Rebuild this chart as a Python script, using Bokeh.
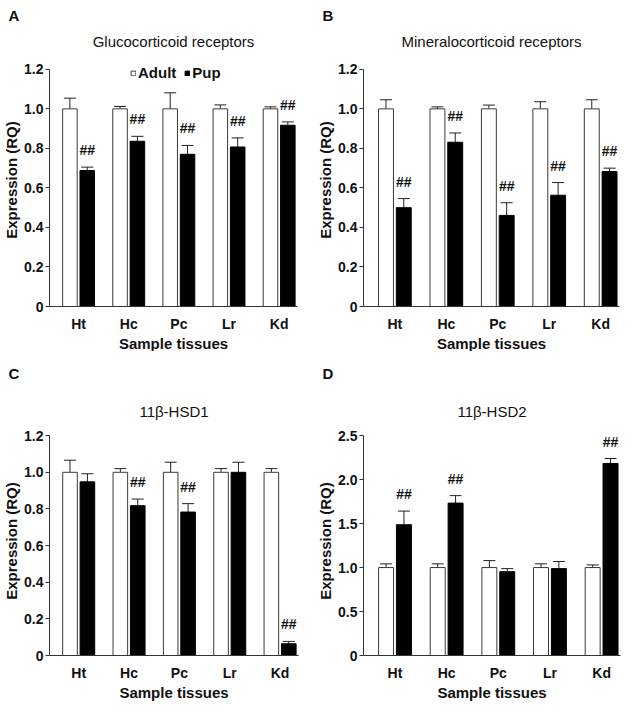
from bokeh.plotting import figure
from bokeh.models import (ColumnDataSource, Whisker, TeeHead, Legend, LegendItem,
                          Title, FixedTicker)
from bokeh.layouts import column, row
from bokeh.embed import file_html
from bokeh.resources import INLINE
from bokeh.core.properties import value

FONT = "Liberation Sans"
TXT = "#111111"
AX = "#333333"

tissues = ["Ht", "Hc", "Pc", "Lr", "Kd"]
positions = [1, 2, 3, 4, 5]

# A: Glucocorticoid receptors
gr_adult = [1.0, 1.0, 1.0, 1.0, 1.0]
gr_adult_sem = [0.054, 0.012, 0.081, 0.020, 0.010]
gr_pup = [0.688, 0.836, 0.770, 0.807, 0.917]
gr_pup_sem = [0.017, 0.025, 0.045, 0.046, 0.017]
gr_sig = [True, True, True, True, True]

# B: Mineralocorticoid receptors
mr_adult = [1.0, 1.0, 1.0, 1.0, 1.0]
mr_adult_sem = [0.046, 0.010, 0.019, 0.036, 0.046]
mr_pup = [0.500, 0.831, 0.461, 0.563, 0.683]
mr_pup_sem = [0.046, 0.047, 0.064, 0.064, 0.017]
mr_sig = [True, True, True, True, True]

# C: 11b-HSD1
h1_adult = [1.0, 1.0, 1.0, 1.0, 1.0]
h1_adult_sem = [0.066, 0.020, 0.055, 0.020, 0.020]
h1_pup = [0.948, 0.818, 0.783, 1.000, 0.064]
h1_pup_sem = [0.044, 0.036, 0.046, 0.055, 0.013]
h1_sig = [False, True, True, False, True]

# D: 11b-HSD2
h2_adult = [1.0, 1.0, 1.0, 1.0, 1.0]
h2_adult_sem = [0.042, 0.042, 0.079, 0.042, 0.030]
h2_pup = [1.487, 1.733, 0.953, 0.988, 2.184]
h2_pup_sem = [0.155, 0.085, 0.035, 0.081, 0.056]
h2_sig = [True, True, False, False, True]

ticks_12 = [0, 0.2, 0.4, 0.6, 0.8, 1.0, 1.2]
labels_12 = ["0", "0.2", "0.4", "0.6", "0.8", "1.0", "1.2"]
ticks_25 = [0, 0.5, 1.0, 1.5, 2.0, 2.5]
labels_25 = ["0", "0.5", "1.0", "1.5", "2.0", "2.5"]

OFF = 0.173
BW = 0.29


def make_panel(letter, title, adult, adult_sem, pup, pup_sem, sig, yticks, ylabels, ymax, yext,
               width, height, bl, br, bt, bb, xstart, legend=False, letter_off=-41,
               title_standoff=7, letter_standoff=8):
    p = figure(width=width, height=height, x_range=(xstart, 5.366), y_range=(0, ymax + yext),
               output_backend="svg", toolbar_location=None, tools="",
               min_border_left=bl, min_border_right=br, min_border_top=bt, min_border_bottom=bb)
    p.outline_line_color = None
    p.grid.visible = False
    p.background_fill_color = "white"

    xa = [x - OFF for x in positions]
    xp = [x + OFF for x in positions]
    sa = ColumnDataSource(dict(x=xa, top=adult, hi=[a + s for a, s in zip(adult, adult_sem)]))
    sp = ColumnDataSource(dict(x=xp, top=pup, hi=[a + s for a, s in zip(pup, pup_sem)]))

    ra = p.vbar(x="x", top="top", bottom=0, width=BW, source=sa,
                fill_color="white", line_color="#3a3a3a", line_width=1)
    rp = p.vbar(x="x", top="top", bottom=0, width=BW, source=sp,
                fill_color="black", line_color="black", line_width=1)
    for s in (sa, sp):
        w = Whisker(source=s, base="x", upper="hi", lower="top", line_color="#222222",
                    line_width=1, upper_head=TeeHead(size=12, line_color="#222222", line_width=1),
                    lower_head=None)
        p.add_layout(w)

    sx = [x for x, f in zip(xp, sig) if f]
    sy = [a + s for a, s, f in zip(pup, pup_sem, sig) if f]
    ss = ColumnDataSource(dict(x=sx, y=sy, t=["##"] * len(sx)))
    p.text(x="x", y="y", text="t", source=ss, text_align="center", text_baseline="bottom",
           y_offset=-9, text_font=value(FONT), text_font_size="14px",
           text_font_style="bold", text_color=TXT)

    # axes
    xaxis = p.xaxis[0]
    xaxis.ticker = FixedTicker(ticks=positions)
    xaxis.major_label_overrides = {pos: t for pos, t in zip(positions, tissues)}
    xaxis.major_tick_out = 0
    xaxis.major_tick_in = 0
    xaxis.minor_tick_line_color = None
    xaxis.major_label_standoff = 9
    yaxis = p.yaxis[0]
    yaxis.ticker = FixedTicker(ticks=yticks)
    yaxis.major_label_overrides = {t: l for t, l in zip(yticks, ylabels)}
    yaxis.bounds = (0, ymax)
    yaxis.minor_tick_line_color = None
    yaxis.major_tick_in = 0
    yaxis.major_tick_out = 4
    yaxis.major_label_standoff = 2
    yaxis.axis_label = "Expression (RQ)"
    yaxis.axis_label_standoff = 1
    for ax in (xaxis, yaxis):
        ax.axis_line_color = AX
        ax.major_tick_line_color = AX if ax is yaxis else None
        ax.major_label_text_font = FONT
        ax.major_label_text_font_size = "14px"
        ax.major_label_text_font_style = "bold"
        ax.major_label_text_color = TXT
        ax.axis_label_text_font = FONT
        ax.axis_label_text_font_size = "15px"
        ax.axis_label_text_font_style = "bold"
        ax.axis_label_text_color = TXT

    p.add_layout(Title(text="Sample tissues", align="center", text_font=FONT,
                       text_font_size="15px", text_font_style="bold", text_color=TXT,
                       standoff=-3), "below")
    p.add_layout(Title(text=title, align="center", text_font=FONT, text_font_size="15px",
                       text_font_style="normal", text_color=TXT, standoff=title_standoff), "above")
    p.add_layout(Title(text=letter, align="left", offset=letter_off, text_font=FONT,
                       text_font_size="15px", text_font_style="bold", text_color=TXT,
                       standoff=letter_standoff), "above")

    if legend:
        lg = Legend(items=[LegendItem(label="Adult", renderers=[ra]),
                           LegendItem(label="Pup", renderers=[rp])],
                    orientation="horizontal", location=(81, 225), glyph_width=6,
                    glyph_height=6, label_standoff=2, spacing=8, padding=0, margin=0,
                    border_line_color=None, background_fill_alpha=0,
                    label_text_font=FONT, label_text_font_size="15px",
                    label_text_font_style="bold", label_text_color=TXT)
        p.add_layout(lg, "center")
    return p


pA = make_panel("A", "Glucocorticoid receptors", gr_adult, gr_adult_sem, gr_pup, gr_pup_sem,
                gr_sig, ticks_12, labels_12, 1.2, 0.08, 314, 351, 36, 17, 44, 45, 0.42,
                legend=True)
pB = make_panel("B", "Mineralocorticoid receptors", mr_adult, mr_adult_sem, mr_pup, mr_pup_sem,
                mr_sig, ticks_12, labels_12, 1.2, 0.08, 314, 351, 42, 9, 44, 45, 0.39)
pC = make_panel("C", "11\u03b2-HSD1", h1_adult, h1_adult_sem, h1_pup, h1_pup_sem,
                h1_sig, ticks_12, labels_12, 1.2, 0.05, 314, 352, 37, 16, 66, 48, 0.42,
                title_standoff=14, letter_standoff=23)
pD = make_panel("D", "11\u03b2-HSD2", h2_adult, h2_adult_sem, h2_pup, h2_pup_sem,
                h2_sig, ticks_25, labels_25, 2.5, 0.104, 314, 352, 43, 8, 66, 48, 0.39,
                title_standoff=14, letter_standoff=23)

layout = column(row(pA, pB), row(pC, pD))
open("out.html", "w").write(file_html(layout, INLINE))
